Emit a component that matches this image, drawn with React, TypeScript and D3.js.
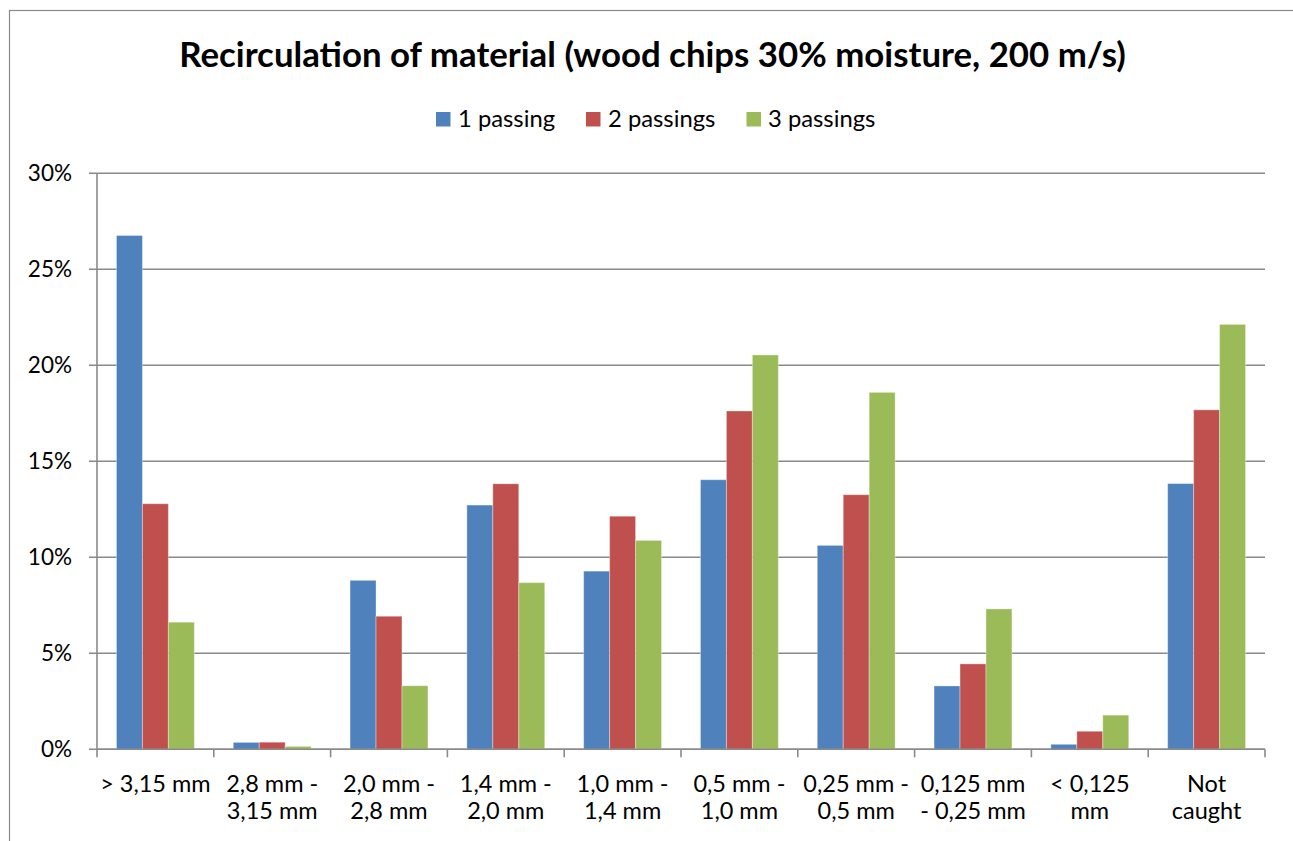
import React from "react";
import * as d3 from "d3";

// Size classes of recirculated material
const categories: string[][] = [
  ["> 3,15 mm"],
  ["2,8 mm -", "3,15 mm"],
  ["2,0 mm -", "2,8 mm"],
  ["1,4 mm -", "2,0 mm"],
  ["1,0 mm -", "1,4 mm"],
  ["0,5 mm -", "1,0 mm"],
  ["0,25 mm -", "0,5 mm"],
  ["0,125 mm", "- 0,25 mm"],
  ["< 0,125", "mm"],
  ["Not", "caught"],
];

const seriesNames = ["1 passing", "2 passings", "3 passings"];
const seriesColors = ["#4F81BD", "#C0504D", "#9BBB59"];

// Share of material per size class (fractions)
const passing1 = [0.2676, 0.0036, 0.088, 0.1272, 0.0928, 0.1404, 0.1062, 0.033, 0.0026, 0.1384];
const passing2 = [0.1279, 0.0037, 0.0693, 0.1383, 0.1214, 0.1762, 0.1326, 0.0445, 0.0094, 0.1768];
const passing3 = [0.0662, 0.0015, 0.0331, 0.0868, 0.1088, 0.2054, 0.1859, 0.0731, 0.0178, 0.2213];

const yTicks = [0, 0.05, 0.1, 0.15, 0.2, 0.25, 0.3];

const W = 1293;
const H = 841;
const plot = { left: 97, right: 1265, top: 173.3, bottom: 749.3 };
const FONT = "Lato, 'Open Sans', sans-serif";
const GRID = "#8a8a8a";

export default function App() {
  const series = [passing1, passing2, passing3];
  const keys = categories.map((_, i) => String(i));

  const x = d3.scaleBand<string>().domain(keys).range([plot.left, plot.right]).paddingInner(0).paddingOuter(0);
  const band = x.bandwidth();
  // gap between groups is 150% of a bar width
  const barW = band / (seriesNames.length + 1.5);
  const xs = d3
    .scaleBand<number>()
    .domain(d3.range(seriesNames.length))
    .range([barW * 0.75, barW * 0.75 + barW * seriesNames.length]);

  const y = d3.scaleLinear().domain([0, 0.3]).range([plot.bottom, plot.top]);
  const fmt = d3.format(".0%");

  const boundaries = d3.range(categories.length + 1).map((i) => plot.left + i * band);

  // legend layout
  const legendItems = [
    { sq: 436, tx: 458 },
    { sq: 586, tx: 608 },
    { sq: 746.5, tx: 768 },
  ];

  return (
    <svg
      width={W}
      height={H}
      style={{ position: "fixed", left: 0, top: 0, background: "#fff" }}
      fontFamily={FONT}
    >
      <rect x={0} y={0} width={W} height={H} fill="#fff" />
      {/* outer chart frame */}
      <rect x={9.5} y={10.5} width={W + 40} height={H + 40} fill="none" stroke={GRID} strokeWidth={1.2} />

      <text x={652.5} y={67} textAnchor="middle" fontSize={34.8} fontWeight={700} fill="#000">
        Recirculation of material (wood chips 30% moisture, 200 m/s)
      </text>

      {/* legend */}
      {seriesNames.map((name, i) => (
        <g key={name}>
          <rect x={legendItems[i].sq} y={112} width={14.5} height={14.5} fill={seriesColors[i]} />
          <text x={legendItems[i].tx} y={127} fontSize={23.8} fill="#000">
            {name}
          </text>
        </g>
      ))}

      {/* horizontal gridlines and y ticks */}
      {yTicks.map((t) => (
        <g key={t}>
          <line x1={plot.left - 8} x2={plot.right} y1={y(t)} y2={y(t)} stroke={GRID} strokeWidth={1.6} />
          <text x={72} y={y(t) + 7.5} textAnchor="end" fontSize={22.5} fill="#000">
            {fmt(t)}
          </text>
        </g>
      ))}

      {/* y axis */}
      <line x1={plot.left} x2={plot.left} y1={plot.top} y2={plot.bottom} stroke={GRID} strokeWidth={1.6} />

      {/* bars */}
      {keys.map((k, ci) => (
        <g key={k} transform={`translate(${x(k)},0)`}>
          {series.map((vals, si) => (
            <rect
              key={si}
              x={xs(si)}
              y={y(vals[ci])}
              width={xs.bandwidth()}
              height={plot.bottom - y(vals[ci])}
              fill={seriesColors[si]}
              stroke="#ffffff"
              strokeOpacity={0.35}
              strokeWidth={1}
            />
          ))}
        </g>
      ))}

      {/* x axis with tick marks at category boundaries */}
      <line x1={plot.left} x2={plot.right} y1={plot.bottom} y2={plot.bottom} stroke={GRID} strokeWidth={1.6} />
      {boundaries.map((bx, i) => (
        <line key={i} x1={bx} x2={bx} y1={plot.bottom} y2={plot.bottom + 8} stroke={GRID} strokeWidth={1.6} />
      ))}

      {/* category labels */}
      {keys.map((k, ci) => (
        <text key={k} x={(x(k) as number) + band / 2} textAnchor="middle" fontSize={23.5} fill="#000">
          {categories[ci].map((line, li) => (
            <tspan key={li} x={(x(k) as number) + band / 2} y={792 + li * 26.5}>
              {line}
            </tspan>
          ))}
        </text>
      ))}
    </svg>
  );
}
